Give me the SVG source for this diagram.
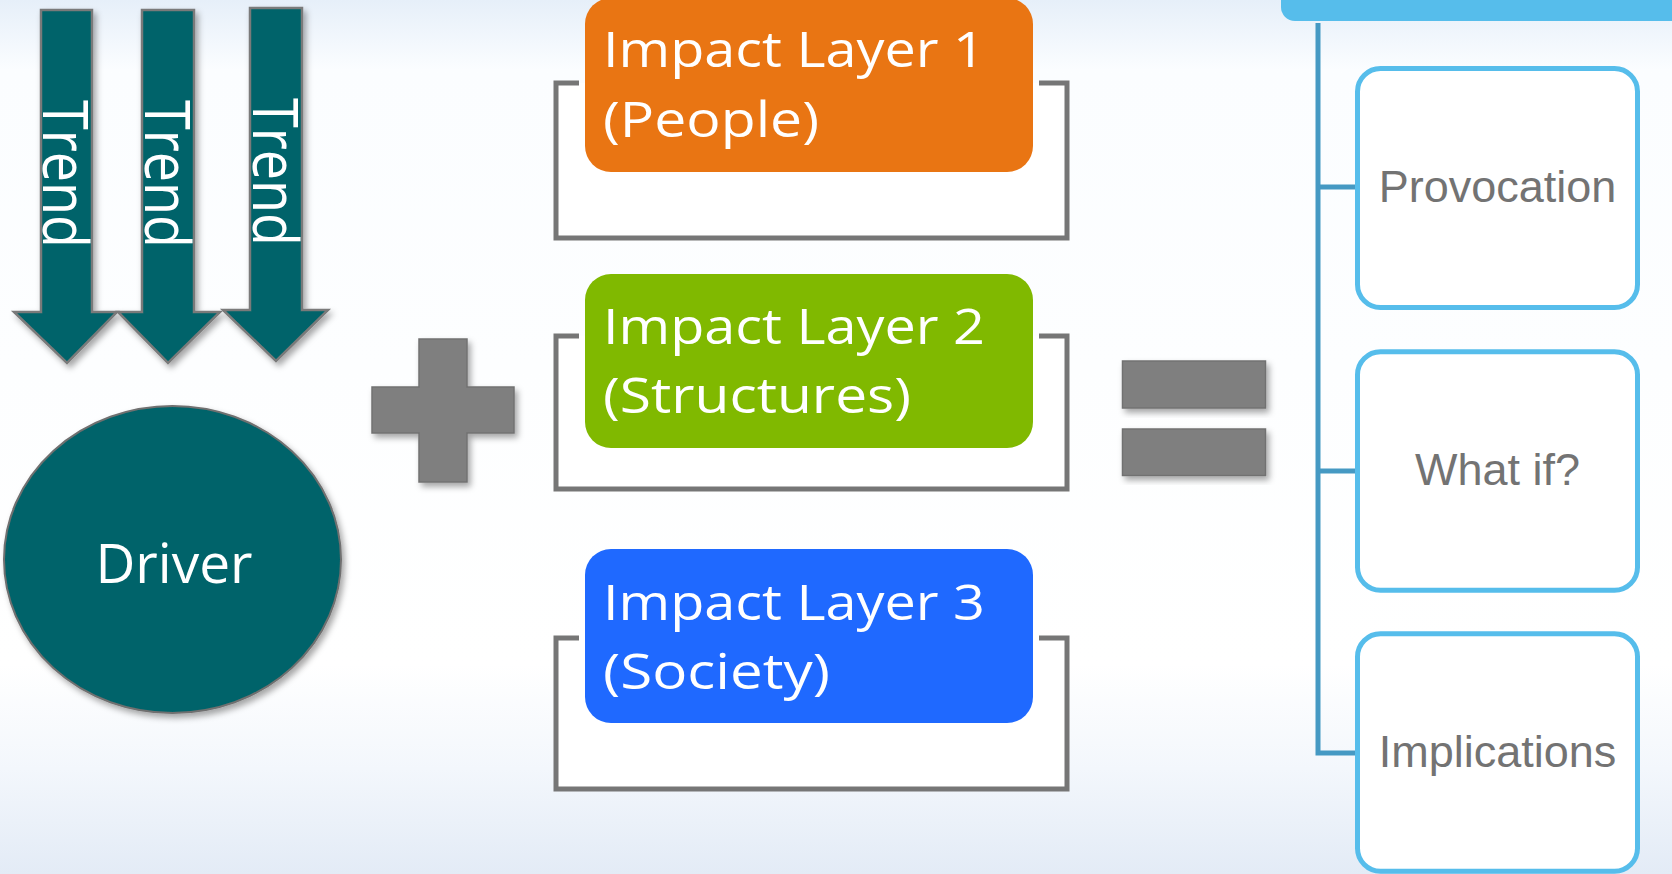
<svg xmlns="http://www.w3.org/2000/svg" width="1672" height="874" viewBox="0 0 1672 874">
  <defs>
    <linearGradient id="bg" x1="0" y1="0" x2="0" y2="1">
      <stop offset="0" stop-color="#e6eff9"/>
      <stop offset="0.08" stop-color="#fbfdff"/>
      <stop offset="0.76" stop-color="#ffffff"/>
      <stop offset="0.88" stop-color="#f3f7fc"/>
      <stop offset="1" stop-color="#e3ebf6"/>
    </linearGradient>
    <filter id="shadow" x="-10%" y="-10%" width="130%" height="130%">
      <feDropShadow dx="3" dy="4" stdDeviation="3" flood-color="#000" flood-opacity="0.35"/>
    </filter>
    <style>
      .arrow { fill: #02646a; stroke: #7a7a7a; stroke-width: 2.5; filter: url(#shadow); }
      .trend { font-family: "Open Sans", "DejaVu Sans", sans-serif; font-size: 62px; fill: #ffffff; }
      .op { fill: #7f7f7f; stroke: #717171; stroke-width: 1.5; filter: url(#shadow); }
      .bracket { fill: #ffffff; stroke: #767676; stroke-width: 5; stroke-linejoin: miter; }
      .layer { font-family: "Open Sans", "DejaVu Sans", sans-serif; font-size: 49px; fill: #ffffff; }
      .conn { fill: none; stroke: #4599c3; stroke-width: 5; }
      .card { fill: #ffffff; stroke: #56bdeb; stroke-width: 5; }
      .cardtext { font-family: "Liberation Sans", Arial, sans-serif; font-size: 45px; fill: #737373; text-anchor: middle; }
    </style>
  </defs>

  <rect x="0" y="0" width="1672" height="874" fill="url(#bg)"/>

  <g id="trend1">
    <path class="arrow" d="M41,10 H92 V312 H117 L67,363 L14,312 H41 Z"/>
    <text class="trend" transform="translate(43,100) rotate(90)" textLength="148" lengthAdjust="spacingAndGlyphs">Trend</text>
  </g>
  <g id="trend2">
    <path class="arrow" d="M142,10 H194 V312 H220 L168,363 L118,312 H142 Z"/>
    <text class="trend" transform="translate(145,100) rotate(90)" textLength="148" lengthAdjust="spacingAndGlyphs">Trend</text>
  </g>
  <g id="trend3">
    <path class="arrow" d="M250,8 H302 V310 H328 L276,361 L223,310 H250 Z"/>
    <text class="trend" transform="translate(253,98) rotate(90)" textLength="148" lengthAdjust="spacingAndGlyphs">Trend</text>
  </g>

  <g id="driver">
    <ellipse cx="172.5" cy="559.5" rx="168.5" ry="153.5" fill="#02646a" stroke="#6f6f6f" stroke-width="2" filter="url(#shadow)"/>
    <text x="174" y="583" font-family="'Open Sans', 'DejaVu Sans', sans-serif" font-size="55" fill="#ffffff" text-anchor="middle">Driver</text>
  </g>

  <g id="plus">
    <polygon class="op" points="419,339 467,339 467,387 514,387 514,433 467,433 467,482 419,482 419,433 372,433 372,387 419,387"/>
  </g>

  <g id="layer1">
    <path class="bracket" d="M579,83 H556 V238 H1067 V83 H1039"/>
    <rect x="585" y="-2" width="448" height="174" rx="26" fill="#e97513"/>
    <text class="layer" x="603" y="67" textLength="382" lengthAdjust="spacingAndGlyphs">Impact Layer 1</text>
    <text class="layer" x="603" y="137" textLength="216" lengthAdjust="spacingAndGlyphs">(People)</text>
  </g>
  <g id="layer2">
    <path class="bracket" d="M579,336 H556 V489 H1067 V336 H1039"/>
    <rect x="585" y="274" width="448" height="174" rx="26" fill="#80b900"/>
    <text class="layer" x="603" y="343.5" textLength="382" lengthAdjust="spacingAndGlyphs">Impact Layer 2</text>
    <text class="layer" x="603" y="413" textLength="308" lengthAdjust="spacingAndGlyphs">(Structures)</text>
  </g>
  <g id="layer3">
    <path class="bracket" d="M579,638 H556 V789 H1067 V638 H1039"/>
    <rect x="585" y="549" width="448" height="174" rx="26" fill="#1f69ff"/>
    <text class="layer" x="603" y="620" textLength="382" lengthAdjust="spacingAndGlyphs">Impact Layer 3</text>
    <text class="layer" x="603" y="689" textLength="227" lengthAdjust="spacingAndGlyphs">(Society)</text>
  </g>

  <g id="equals">
    <rect class="op" x="1122.5" y="361" width="143" height="47"/>
    <rect class="op" x="1122.5" y="429" width="143" height="46.5"/>
  </g>

  <g id="header">
    <rect x="1281" y="-30" width="420" height="51" rx="14" fill="#56bdeb"/>
  </g>

  <g id="connectors">
    <path class="conn" d="M1318,23 V753 H1356"/>
    <path class="conn" d="M1318,187 H1356"/>
    <path class="conn" d="M1318,471 H1356"/>
  </g>

  <g id="provocation">
    <rect class="card" x="1357.5" y="68.5" width="280" height="239" rx="23"/>
    <text class="cardtext" x="1497.5" y="201.7">Provocation</text>
  </g>
  <g id="whatif">
    <rect class="card" x="1357.5" y="351.8" width="280" height="238.5" rx="23"/>
    <text class="cardtext" x="1497.5" y="485">What if?</text>
  </g>
  <g id="implications">
    <rect class="card" x="1357.5" y="633.8" width="280" height="237.5" rx="23"/>
    <text class="cardtext" x="1497.5" y="767">Implications</text>
  </g>
</svg>
